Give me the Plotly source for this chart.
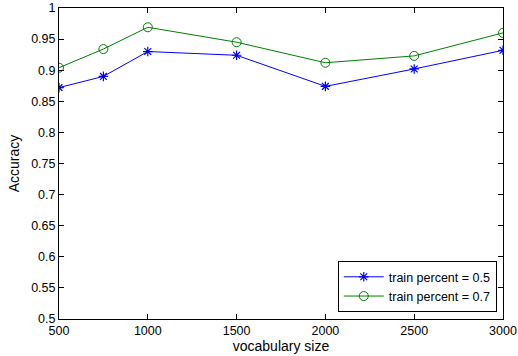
import plotly.graph_objects as go

vocab_size = [500, 750, 1000, 1500, 2000, 2500, 3000]
acc_train_05 = [0.872, 0.890, 0.930, 0.924, 0.874, 0.902, 0.932]
acc_train_07 = [0.904, 0.934, 0.969, 0.945, 0.912, 0.923, 0.960]
series_names = ["train percent = 0.5", "train percent = 0.7"]
x_ticks = [500, 1000, 1500, 2000, 2500, 3000]
y_ticks = [0.5, 0.55, 0.6, 0.65, 0.7, 0.75, 0.8, 0.85, 0.9, 0.95, 1]
y_tick_labels = ["0.5", "0.55", "0.6", "0.65", "0.7", "0.75", "0.8", "0.85", "0.9", "0.95", "1"]

font_family = "Liberation Sans, Arial, Helvetica, sans-serif"

fig = go.Figure()
fig.add_trace(go.Scatter(
    x=vocab_size, y=acc_train_05, name=series_names[0], mode="lines+markers",
    line=dict(color="#0000ff", width=1),
    marker=dict(symbol="asterisk-open", size=8, color="#0000ff", line=dict(color="#0000ff", width=1.2)),
))
fig.add_trace(go.Scatter(
    x=vocab_size, y=acc_train_07, name=series_names[1], mode="lines+markers",
    line=dict(color="#008000", width=1),
    marker=dict(symbol="circle-open", size=9, color="#008000", line=dict(color="#008000", width=1)),
))

axis_common = dict(
    showline=True, linecolor="black", linewidth=1, mirror="allticks",
    ticks="inside", ticklen=5, tickcolor="black", tickwidth=1,
    showgrid=False, zeroline=False,
    tickfont=dict(family=font_family, size=12.5, color="black"),
)

fig.update_layout(
    width=518, height=356,
    margin=dict(l=59, r=15, t=8, b=37, autoexpand=False),
    paper_bgcolor="white", plot_bgcolor="white",
    font=dict(family=font_family, color="black"),
    showlegend=True,
    legend=dict(
        x=0.986, y=0.022, xanchor="right", yanchor="bottom",
        bgcolor="white", bordercolor="black", borderwidth=1,
        font=dict(family=font_family, size=12.5, color="black"),
        tracegroupgap=0, itemwidth=40,
    ),
    xaxis=dict(
        range=[500, 3000], tickvals=x_ticks,
        title=dict(text="vocabulary size", font=dict(family=font_family, size=14), standoff=2),
        **axis_common,
    ),
    yaxis=dict(
        range=[0.5, 1], tickvals=y_ticks, ticktext=y_tick_labels,
        title=dict(text="Accuracy", font=dict(family=font_family, size=14), standoff=8),
        **axis_common,
    ),
)

fig.write_html("out.html", config={"displayModeBar": False},
               post_script="document.body.style.margin='0';")
